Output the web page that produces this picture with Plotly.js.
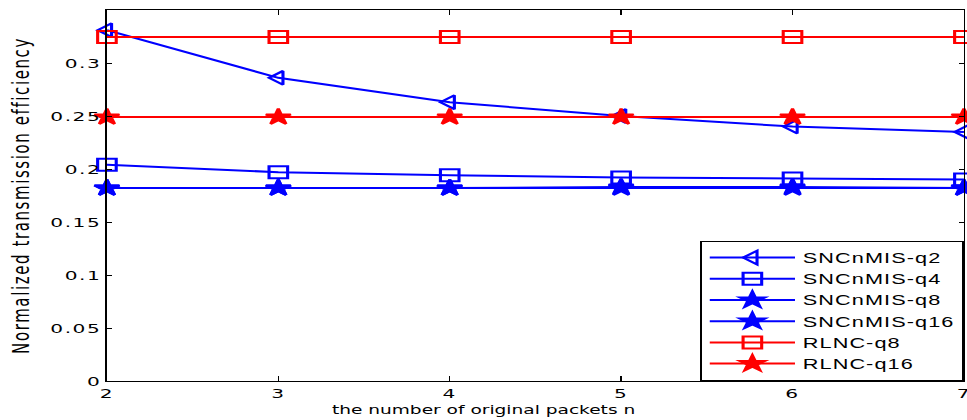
<!DOCTYPE html>
<html>
<head>
<meta charset="utf-8">
<script src="https://cdn.plot.ly/plotly-3.0.1.min.js"></script>
<style>
html,body{margin:0;padding:0;background:#fff;overflow:hidden}
#wrap{width:967px;height:420px;overflow:hidden}
#chart{width:624px;height:420px;transform:scaleX(1.5497);transform-origin:0 0}
.xtick text,.ytick text{letter-spacing:1px}
.legendtext{letter-spacing:0.7px}
</style>
</head>
<body>
<div id="wrap"><div id="chart"></div></div>
<script>
const nValues = [2, 3, 4, 5, 6, 7];
const seriesNames = ["SNCnMIS-q2", "SNCnMIS-q4", "SNCnMIS-q8", "SNCnMIS-q16", "RLNC-q8", "RLNC-q16"];
const sncQ2 = [0.331, 0.286, 0.263, 0.250, 0.240, 0.235];
const sncQ4 = [0.204, 0.197, 0.194, 0.192, 0.191, 0.190];
const sncQ8 = [0.182, 0.182, 0.182, 0.183, 0.183, 0.182];
const sncQ16 = [0.182, 0.182, 0.182, 0.182, 0.182, 0.182];
const rlncQ8 = [0.3245, 0.3245, 0.3245, 0.3245, 0.3245, 0.3245];
const rlncQ16 = [0.249, 0.249, 0.249, 0.249, 0.249, 0.249];
const yTickVals = [0, 0.05, 0.1, 0.15, 0.2, 0.25, 0.3];
const xTitle = "the number of original packets n";
const yTitle = "Normalized transmission efficiency";

const allSeries = [sncQ2, sncQ4, sncQ8, sncQ16, rlncQ8, rlncQ16];
const colors = ["#0000ff", "#0000ff", "#0000ff", "#0000ff", "#ff0000", "#ff0000"];
const symbols = ["triangle-left-open", "square-open", "star", "star", "square-open", "star"];
const sizes = [12, 12, 12, 12, 12, 12];

const traces = allSeries.map((ys, i) => ({
  x: nValues, y: ys, name: seriesNames[i], type: "scatter", mode: "lines+markers",
  line: {color: colors[i], width: 2},
  marker: {symbol: symbols[i], size: sizes[i], color: colors[i], line: {color: colors[i], width: 2}},
  cliponaxis: false
}));

const W = 624, L = 69, R = 2;
const plotW = W - L - R;
const tickFont = {family: "DejaVu Sans, sans-serif", size: 13, color: "#000"};
const legFont = {family: "Liberation Sans, Arial, sans-serif", size: 14, color: "#000"};

const layout = {
  width: W, height: 420,
  margin: {l: L, r: R, t: 10, b: 39},
  paper_bgcolor: "#fff", plot_bgcolor: "#fff",
  font: tickFont,
  showlegend: true,
  legend: {
    x: 1, xanchor: "right", y: 0, yanchor: "bottom",
    bgcolor: "#fff", bordercolor: "#000", borderwidth: 1,
    font: legFont, tracegroupgap: 0, itemwidth: 55
  },
  xaxis: {
    range: [2, 7], tickvals: nValues, ticktext: nValues.map(String),
    ticks: "inside", ticklen: 5, tickcolor: "#000", mirror: "ticks",
    showline: true, linecolor: "#000", linewidth: 1, showgrid: false, zeroline: false,
    tickfont: tickFont, ticklabeloverflow: "allow"
  },
  yaxis: {
    range: [0, 0.35], tickvals: yTickVals, ticktext: yTickVals.map(String),
    ticks: "inside", ticklen: 3, tickcolor: "#000", mirror: "ticks",
    showline: true, linecolor: "#000", linewidth: 1, showgrid: false, zeroline: false,
    tickfont: tickFont, ticklabeloverflow: "allow"
  },
  annotations: [
    {text: xTitle, xref: "paper", yref: "paper", x: (312 - L) / plotW, y: -0.078,
     xanchor: "center", yanchor: "middle", showarrow: false,
     font: {family: "DejaVu Sans, sans-serif", size: 12, color: "#000"}},
    {text: yTitle, xref: "paper", yref: "paper", x: (13.6 - L) / plotW, y: 0.501,
     xanchor: "center", yanchor: "middle", showarrow: false, textangle: -90,
     font: {family: "DejaVu Sans, sans-serif", size: 15, color: "#000"}}
  ]
};

Plotly.newPlot("chart", traces, layout, {displayModeBar: false, staticPlot: true}).then(() => {
  document.querySelectorAll(".annotation-text").forEach(t => {
    if (t.textContent === yTitle) t.style.letterSpacing = "1.6px";
  });
});
</script>
</body>
</html>
